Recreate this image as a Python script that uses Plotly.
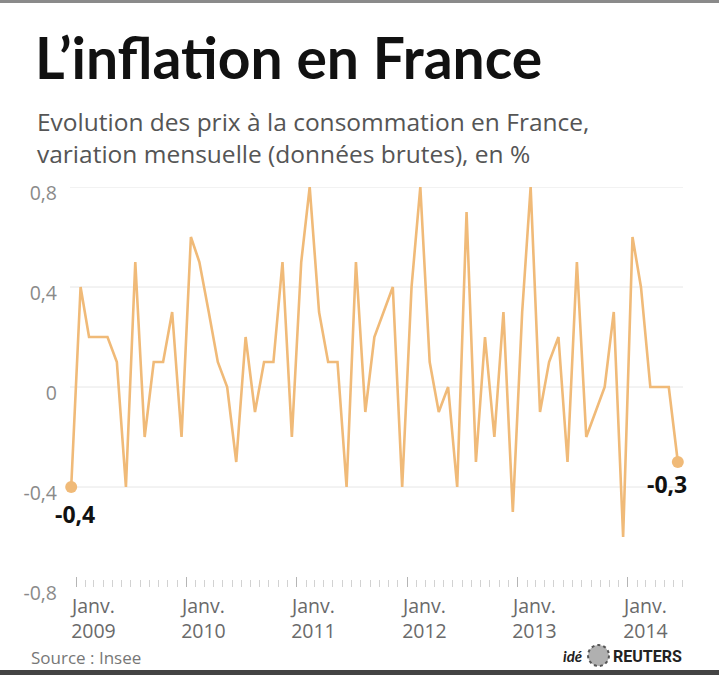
import plotly.graph_objects as go
import pandas as pd

# ---- data ----
months = pd.date_range("2009-01-01", "2014-07-01", freq="MS")
values = [
    -0.4, 0.4, 0.2, 0.2, 0.2, 0.1, -0.4, 0.5, -0.2, 0.1, 0.1, 0.3,   # 2009
    -0.2, 0.6, 0.5, 0.3, 0.1, 0.0, -0.3, 0.2, -0.1, 0.1, 0.1, 0.5,   # 2010
    -0.2, 0.5, 0.8, 0.3, 0.1, 0.1, -0.4, 0.5, -0.1, 0.2, 0.3, 0.4,   # 2011
    -0.4, 0.4, 0.8, 0.1, -0.1, 0.0, -0.4, 0.7, -0.3, 0.2, -0.2, 0.3, # 2012
    -0.5, 0.3, 0.8, -0.1, 0.1, 0.2, -0.3, 0.5, -0.2, -0.1, 0.0, 0.3, # 2013
    -0.6, 0.6, 0.4, 0.0, 0.0, 0.0, -0.3,                             # 2014
]
years = [2009, 2010, 2011, 2012, 2013, 2014]
year_labels = ["Janv.<br>%d" % y for y in years]
ytick_vals = [-0.8, -0.4, 0, 0.4, 0.8]
ytick_text = ["-0,8", "-0,4", "0", "0,4", "0,8"]
grid_vals = [-0.4, 0, 0.4, 0.8]

W, H = 719, 675
L, R, T, B = 70, 33, 187, 88
PW, PH = W - L - R, H - T - B

def px(x):
    return (x - L) / PW

def py(y):
    return (H - B - y) / PH

FONT = "Open Sans"
TFONT = "Lato"
LINE = "#F0BA78"
GREY = "#6a6a6a"

fig = go.Figure()
fig.add_trace(go.Scatter(
    x=months, y=values, mode="lines",
    line=dict(color=LINE, width=2.6),
    cliponaxis=False, hoverinfo="skip", showlegend=False,
))
# end markers
fig.add_trace(go.Scatter(
    x=[months[0], months[-1]], y=[values[0], values[-1]], mode="markers",
    marker=dict(color=LINE, size=12), cliponaxis=False,
    hoverinfo="skip", showlegend=False,
))

def fmt(v):
    return ("%.1f" % v).replace(".", ",")

annotations = [
    dict(x=months[0], y=values[0], xref="x", yref="y", text="<b>%s</b>" % fmt(values[0]),
         showarrow=False, xanchor="center", yanchor="middle", yshift=-27, xshift=4,
         font=dict(family=FONT, size=23, color="#111")),
    dict(x=months[-1], y=values[-1], xref="x", yref="y", text="<b>%s</b>" % fmt(values[-1]),
         showarrow=False, xanchor="center", yanchor="middle", yshift=-22, xshift=-11,
         font=dict(family=FONT, size=23, color="#111")),
]
for y, lab in zip(years, year_labels):
    annotations.append(dict(
        x=pd.Timestamp(y, 3, 13), y=0, xref="x", yref="paper", text=lab,
        showarrow=False, xanchor="center", yanchor="top", yshift=-4, align="center",
        borderpad=0,
        font=dict(family=FONT, size=19.5, color=GREY),
    ))

# subtitle, footer
annotations += [
    dict(x=px(35), y=py(122), xref="paper", yref="paper", xanchor="left", yanchor="middle",
         text="Evolution des prix à la consommation en France,", showarrow=False,
         font=dict(family=FONT, size=24.5, color="#555")),
    dict(x=px(35), y=py(153), xref="paper", yref="paper", xanchor="left", yanchor="middle",
         text="variation mensuelle (données brutes), en %", showarrow=False,
         font=dict(family=FONT, size=24.5, color="#555")),
    dict(x=px(29), y=py(657), xref="paper", yref="paper", xanchor="left", yanchor="middle",
         text="Source : Insee", showarrow=False,
         font=dict(family=FONT, size=17, color="#777")),
    dict(x=px(585), y=py(656), xref="paper", yref="paper", xanchor="right", yanchor="middle",
         text="<b><i>idé</i></b>", showarrow=False,
         font=dict(family=TFONT, size=15, color="#222")),
    dict(x=px(611), y=py(656), xref="paper", yref="paper", xanchor="left", yanchor="middle",
         text="<b>REUTERS</b>", showarrow=False,
         font=dict(family="Roboto", size=16, color="#222")),
]

shapes = []
for g in grid_vals:
    shapes.append(dict(type="line", xref="paper", yref="y", x0=0, x1=(683 - L) / PW,
                       y0=g, y1=g, line=dict(color="#e6e6e6", width=1), layer="below"))
# top and bottom frame bars
shapes.append(dict(type="rect", xref="paper", yref="paper", x0=px(0), x1=px(W),
                   y0=py(0), y1=py(3), fillcolor="#8a8a8a", line=dict(width=0)))
shapes.append(dict(type="rect", xref="paper", yref="paper", x0=px(0), x1=px(W),
                   y0=py(670), y1=py(675), fillcolor="#444", line=dict(width=0)))
# reuters logo
shapes.append(dict(type="circle", xref="paper", yref="paper", x0=px(588), x1=px(609),
                   y0=py(666), y1=py(645), fillcolor="#b0b0b0",
                   line=dict(color="#555", width=2, dash="dot")))

fig.update_layout(
    width=W, height=H,
    margin=dict(l=L, r=R, t=T, b=B, autoexpand=False),
    paper_bgcolor="white", plot_bgcolor="white",
    title=dict(text="<b>L’inflation en France</b>", x=35 / W, xanchor="left",
               xref="container", yref="container", y=1 - 59 / H, yanchor="middle",
               font=dict(family=TFONT, size=57, color="#111")),
    xaxis=dict(
        type="date", range=["2008-12-28", "2014-07-28"],
        showgrid=False, zeroline=False, showline=False,
        showticklabels=False,
        tick0="2009-01-17", dtick="M12", ticks="inside", ticklen=10,
        tickcolor="#b5b5b5", tickwidth=1,
        minor=dict(tick0="2009-01-17", dtick="M1", ticks="inside", ticklen=7,
                   tickcolor="#d2d2d2", tickwidth=1, showgrid=False),
    ),
    yaxis=dict(
        range=[-0.8, 0.8], tickvals=ytick_vals, ticktext=ytick_text,
        showgrid=False, zeroline=False, showline=False, ticks="",
        ticklabelstandoff=12, ticklabelshift=6,
        tickfont=dict(family=FONT, size=19.5, color="#8a8a8a"),
    ),
    annotations=annotations, shapes=shapes,
)

fig.write_html("out.html")
